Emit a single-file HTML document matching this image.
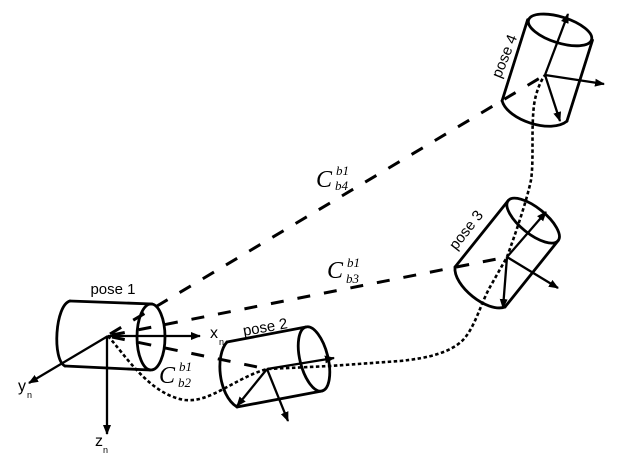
<!DOCTYPE html>
<html>
<head>
<meta charset="utf-8">
<style>
  html,body{margin:0;padding:0;background:#fff;}
  svg{display:block;}
  .lbl{font-family:"Liberation Sans",Arial,sans-serif;fill:#000;}
  .mth{font-family:"Liberation Serif","Times New Roman",serif;font-style:italic;fill:#000;}
</style>
</head>
<body>
<svg width="625" height="467" viewBox="0 0 625 467" xmlns="http://www.w3.org/2000/svg">
  <defs>
    <marker id="ah" viewBox="0 0 10 8" refX="9" refY="4" markerWidth="10" markerHeight="8" markerUnits="userSpaceOnUse" orient="auto">
      <path d="M0,0 L10,4 L0,8 z" fill="#000"/>
    </marker>
  </defs>

  <!-- dashed connector lines -->
  <g fill="none" stroke="#000" stroke-width="3" stroke-dasharray="13 14">
    <line x1="110" y1="334" x2="545" y2="75"/>
    <line x1="112" y1="335" x2="507" y2="257"/>
    <line x1="112" y1="337" x2="267" y2="369"/>
  </g>

  <!-- dotted trajectory -->
  <path d="M108,336 C125,355 150,395 185,400 C210,403 235,378 267,369 L330,366 L400,361 C430,358 450,352 462,341 C475,328 480,305 490,287 L507,257 C515,235 527,200 531,180 C534,160 531,130 534,105 C536,92 540,82 545,75"
        fill="none" stroke="#000" stroke-width="2.6" stroke-dasharray="3.5 2.5"/>

  <g fill="none" stroke="#000" stroke-width="2.8" stroke-linecap="round" stroke-linejoin="round">
    <!-- pose 1 cylinder -->
    <path d="M70,301 L152,304"/>
    <path d="M65,366 L150,370"/>
    <path d="M70,301 C55,305 52,360 65,366"/>
    <ellipse cx="151" cy="337" rx="14" ry="33"/>

    <!-- pose 2 cylinder -->
    <path d="M227,342 L306,327"/>
    <path d="M237,407 L322,391"/>
    <path d="M227,342 C215,355 218,395 237,407"/>
    <ellipse cx="314" cy="359" rx="14" ry="33" transform="rotate(-14 314 359)"/>

    <!-- pose 3 cylinder -->
    <g transform="translate(480,287) rotate(-51.3)">
      <path d="M0,-32 L85,-32"/>
      <path d="M0,32 L85,32"/>
      <path d="M0,-32 C-16,-22 -16,22 0,32"/>
      <ellipse cx="85" cy="0" rx="13" ry="32"/>
    </g>

    <!-- pose 4 cylinder -->
    <g transform="translate(534.5,111) rotate(-72.5)">
      <path d="M0,-34 L85,-34"/>
      <path d="M0,34 L85,34"/>
      <path d="M0,-34 C-17,-23 -17,23 0,34"/>
      <ellipse cx="85" cy="0" rx="13" ry="33"/>
    </g>
  </g>

  <!-- axes -->
  <g fill="none" stroke="#000" stroke-width="2.3" marker-end="url(#ah)">
    <!-- pose 1 -->
    <line x1="108" y1="336" x2="200" y2="336"/>
    <line x1="108" y1="336" x2="29" y2="383"/>
    <line x1="107" y1="336" x2="107" y2="434"/>
    <!-- pose 2 -->
    <line x1="267" y1="369" x2="334" y2="358"/>
    <line x1="267" y1="369" x2="237" y2="406"/>
    <line x1="267" y1="369" x2="288" y2="421"/>
    <!-- pose 3 -->
    <line x1="507" y1="257" x2="546" y2="212"/>
    <line x1="507" y1="257" x2="503" y2="308"/>
    <line x1="507" y1="257" x2="558" y2="288"/>
    <!-- pose 4 -->
    <line x1="545" y1="75" x2="568" y2="14"/>
    <line x1="545" y1="75" x2="604" y2="84"/>
    <line x1="545" y1="75" x2="560" y2="121"/>
  </g>

  <!-- pose labels -->
  <text class="lbl" x="113" y="294" font-size="15" text-anchor="middle">pose 1</text>
  <text class="lbl" font-size="15" text-anchor="middle" transform="translate(266,332) rotate(-10)">pose 2</text>
  <text class="lbl" font-size="15" text-anchor="middle" transform="translate(470,233) rotate(-52)">pose 3</text>
  <text class="lbl" font-size="15" text-anchor="middle" transform="translate(509,58) rotate(-68)">pose 4</text>

  <!-- axis labels -->
  <text class="lbl" x="210" y="338" font-size="16">x</text>
  <text class="lbl" x="219" y="345" font-size="9">n</text>
  <text class="lbl" x="18" y="391" font-size="16">y</text>
  <text class="lbl" x="27" y="398" font-size="9">n</text>
  <text class="lbl" x="95" y="446" font-size="16">z</text>
  <text class="lbl" x="103" y="453" font-size="9">n</text>

  <!-- C labels -->
  <text class="mth" x="316" y="187" font-size="24">C</text>
  <text class="mth" x="336" y="175" font-size="13">b1</text>
  <text class="mth" x="335" y="190" font-size="13">b4</text>

  <text class="mth" x="327" y="278" font-size="24">C</text>
  <text class="mth" x="347" y="267" font-size="13">b1</text>
  <text class="mth" x="346" y="283" font-size="13">b3</text>

  <text class="mth" x="159" y="383" font-size="24">C</text>
  <text class="mth" x="179" y="371" font-size="13">b1</text>
  <text class="mth" x="178" y="387" font-size="13">b2</text>
</svg>
</body>
</html>
